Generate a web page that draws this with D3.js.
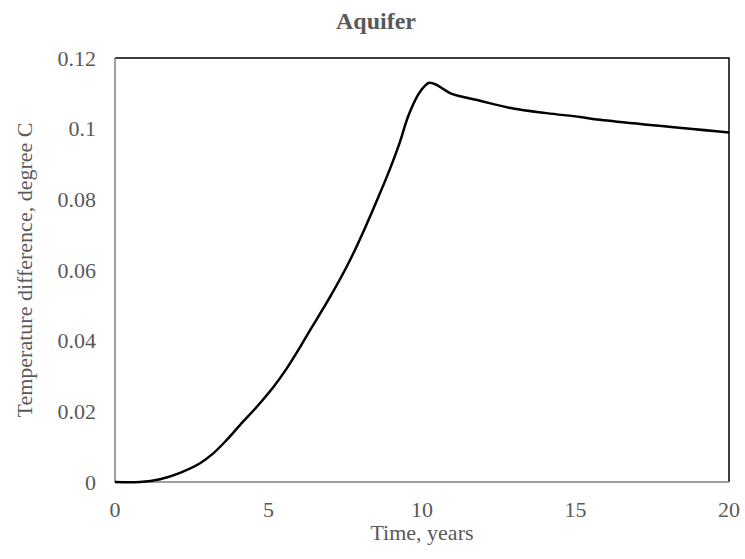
<!DOCTYPE html>
<meta charset="utf-8">
<style>
  body { margin: 0; background: #fff; }
  text { font-family: "Liberation Serif", "Times New Roman", serif; fill: #595959; }
</style>
<svg width="745" height="559"></svg>
<script src="https://d3js.org/d3.v7.min.js"></script>
<script>

var title = "Aquifer",
    xLabel = "Time, years",
    yLabel = "Temperature difference, degree C";

var years    = [0, 0.81, 1.47, 2.12, 2.77, 3.2, 3.64, 4.07, 4.62, 5.16, 5.59, 6.03, 6.35, 7.0, 7.65, 8.2, 8.63, 8.96, 9.28, 9.55, 9.88, 10.1, 10.24, 10.45, 10.7, 10.95, 11.89, 12.97, 14.06, 15.15, 15.8, 20],
    tempDiff = [0, 0, 0.0008, 0.0026, 0.0053, 0.0081, 0.0119, 0.0161, 0.0213, 0.0269, 0.0321, 0.0382, 0.0429, 0.0523, 0.0627, 0.073, 0.0817, 0.0887, 0.0962, 0.1035, 0.1097, 0.1122, 0.113, 0.1125, 0.1112, 0.1099, 0.1079, 0.1057, 0.1044, 0.1033, 0.1025, 0.0989];

var xTicks = [0, 5, 10, 15, 20],
    yTicks = [0, 0.02, 0.04, 0.06, 0.08, 0.1, 0.12];

var svg = d3.select("svg"),
    plotLeft = 115, plotRight = 729, plotTop = 58, plotBottom = 482;

var x = d3.scaleLinear().domain([0, 20]).range([plotLeft, plotRight]),
    y = d3.scaleLinear().domain([0, 0.12]).range([plotBottom, plotTop]);

var data = years.map(function(d, i) { return [d, tempDiff[i]]; });

// frame: top and right black, axes gray
svg.append("path")
    .attr("d", "M" + plotLeft + "," + plotTop + "H" + plotRight + "V" + plotBottom)
    .attr("fill", "none")
    .attr("stroke", "#000")
    .attr("stroke-width", 1.5);

svg.append("path")
    .attr("d", "M" + plotLeft + "," + plotTop + "V" + plotBottom + "H" + plotRight)
    .attr("fill", "none")
    .attr("stroke", "#808080")
    .attr("stroke-width", 1.5);

svg.append("path")
    .datum(data)
    .attr("fill", "none")
    .attr("stroke", "#000")
    .attr("stroke-width", 2.5)
    .attr("d", d3.line()
      .x(function(d) { return x(d[0]); })
      .y(function(d) { return y(d[1]); })
      .curve(d3.curveCatmullRom.alpha(0.5)));

svg.selectAll(".xt").data(xTicks).enter().append("text")
    .attr("x", function(d) { return x(d); })
    .attr("y", 517)
    .attr("text-anchor", "middle")
    .style("font-size", "22px")
    .text(function(d) { return d; });

svg.selectAll(".yt").data(yTicks).enter().append("text")
    .attr("x", 96)
    .attr("y", function(d) { return y(d) + 7.5; })
    .attr("text-anchor", "end")
    .style("font-size", "22px")
    .text(function(d) { return d; });

svg.append("text")
    .attr("x", (plotLeft + plotRight) / 2)
    .attr("y", 540)
    .attr("text-anchor", "middle")
    .style("font-size", "22px")
    .text(xLabel);

svg.append("text")
    .attr("transform", "translate(32," + ((plotTop + plotBottom) / 2) + ") rotate(-90)")
    .attr("text-anchor", "middle")
    .style("font-size", "22px")
    .text(yLabel);

svg.append("text")
    .attr("x", 376)
    .attr("y", 29)
    .attr("text-anchor", "middle")
    .style("font-size", "24px")
    .style("font-weight", "bold")
    .text(title);

</script>
